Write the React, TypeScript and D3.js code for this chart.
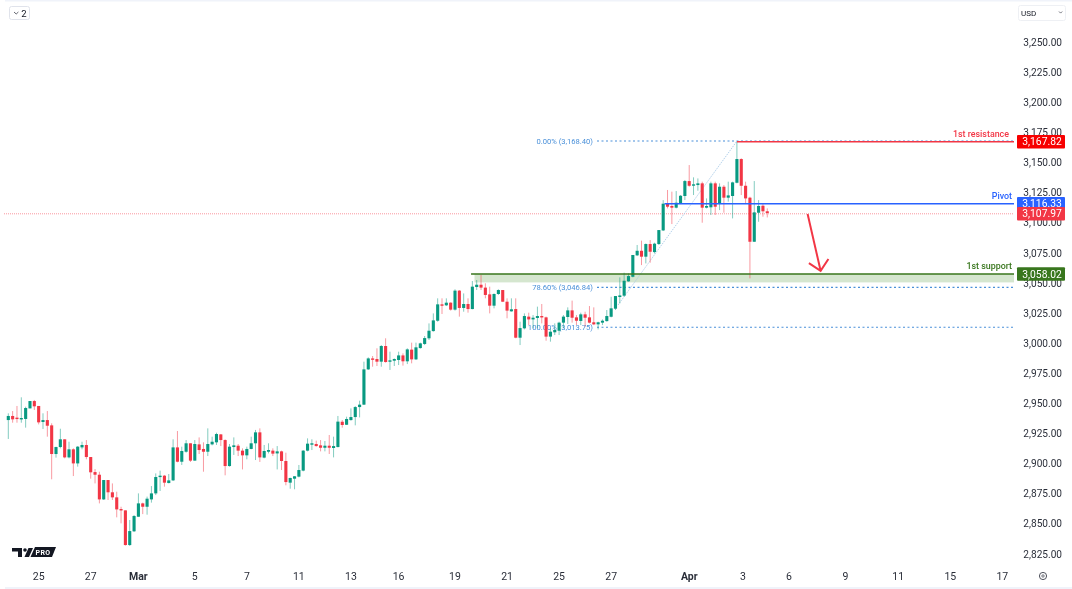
import React from "react";
import * as d3 from "d3";

const opens = [
2936.0,2939.4,2938.0,2936.9,2936.9,2945.7,2951.8,2947.7,2934.4,2936.0,
2931.6,2907.8,2913.6,2920.0,2905.0,2911.7,2900.0,2913.3,2915.3,2905.3,
2892.8,2890.6,2870.1,2886.2,2876.0,2871.8,2862.1,2861.0,2832.2,2843.6,
2855.7,2866.8,2864.0,2870.1,2875.1,2889.0,2889.8,2883.7,2885.9,2913.3,
2901.4,2909.7,2916.7,2902.3,2915.8,2912.0,2909.7,2915.8,2917.5,2924.1,
2919.4,2897.8,2913.6,2914.7,2910.6,2906.7,2912.0,2916.7,2925.8,2904.8,
2909.7,2910.6,2908.3,2910.0,2902.0,2884.0,2887.3,2889.0,2894.0,2910.6,
2915.6,2916.1,2915.0,2913.0,2914.7,2912.8,2913.6,
2934.6,2932.1,2936.0,2938.5,2946.8,2948.8,2978.1,2987.2,2986.7,
2984.5,2997.5,2984.5,2985.3,2985.9,2989.7,2984.8,2994.5,2986.4,2995.8,
2999.2,3003.9,3009.9,3018.5,3032.1,3031.3,3033.5,3027.7,3043.5,3029.1,
3032.4,3028.2,3046.5,3048.4,3046.0,3040.4,3031.0,3040.7,3044.0,3034.3,
3026.3,3028.2,3004.4,3012.2,3021.9,3019.6,3020.8,3022.4,3021.3,3005.3,
3008.9,3010.2,3016.9,3021.6,3027.1,3021.3,3018.3,3023.8,3021.3,3017.2,
3015.5,3016.9,
3018.2,3021.8,3028.5,3038.2,3039.3,3051.2,3055.0,3072.8,3076.6,3071.7,
3082.2,3075.5,3082.2,3093.5,3115.7,3113.8,3112.4,3116.3,3122.1,3134.5,
3131.2,3131.2,3132.6,3112.4,3112.7,3132.6,3116.0,3129.8,3120.7,3122.1,
3133.1,3152.8,3130.6,3120.7,3084.1,3108.2,3114.0,3109.4];

const highs = [
2941.6,2943.5,2947.7,2954.9,2947.1,2951.8,2952.7,2947.7,2941.6,2943.5,
2933.3,2913.9,2928.8,2920.0,2918.0,2912.5,2914.4,2918.0,2919.4,2905.3,
2895.3,2893.1,2886.2,2886.2,2883.4,2876.5,2864.0,2861.0,2853.0,2857.1,
2875.1,2867.4,2872.4,2881.2,2891.7,2894.0,2890.4,2891.2,2920.0,2926.9,
2913.9,2919.4,2916.7,2919.4,2921.6,2917.5,2929.1,2922.2,2925.5,2924.4,
2920.0,2916.1,2921.6,2916.1,2912.5,2913.9,2922.2,2927.8,2929.1,2915.3,
2916.7,2912.5,2914.4,2910.6,2908.9,2888.1,2889.5,2898.7,2911.1,2920.8,
2920.0,2918.9,2919.4,2918.6,2923.6,2922.2,2939.4,
2936.0,2938.8,2945.7,2947.6,2952.1,2984.5,2988.1,2989.2,2995.6,
2998.3,3003.9,2992.8,2987.2,2992.8,2991.4,2995.6,3000.3,3000.3,3000.3,
3005.8,3016.3,3024.6,3037.1,3037.1,3037.1,3033.8,3044.6,3044.0,3041.2,
3037.1,3051.5,3052.3,3056.5,3049.6,3046.8,3041.2,3044.6,3044.0,3037.1,
3037.1,3037.1,3017.7,3024.6,3025.2,3023.2,3030.2,3032.4,3021.9,3012.2,
3016.3,3017.7,3023.2,3029.6,3035.2,3023.2,3025.2,3026.0,3030.7,3029.6,
3017.7,3019.6,
3027.4,3038.4,3039.0,3054.5,3058.4,3057.8,3073.1,3081.4,3085.0,3082.7,
3085.5,3083.3,3093.8,3118.7,3127.1,3125.7,3126.2,3122.9,3135.4,3147.8,
3137.6,3136.7,3134.0,3120.1,3134.0,3134.0,3132.6,3131.2,3134.0,3134.0,
3167.2,3153.4,3134.0,3121.5,3134.5,3118.7,3116.0,3111.8];

const lows = [
2920.3,2933.8,2933.8,2933.8,2929.7,2945.7,2944.4,2932.4,2928.6,2922.2,
2886.8,2904.8,2912.5,2904.2,2904.2,2889.5,2897.3,2911.7,2903.4,2887.3,
2883.4,2866.8,2869.6,2869.6,2869.6,2855.2,2850.2,2831.7,2831.4,2843.0,
2855.7,2857.9,2857.4,2867.4,2873.7,2877.1,2880.7,2883.4,2885.4,2900.9,
2898.7,2908.9,2901.2,2902.3,2907.8,2893.1,2906.1,2915.0,2915.3,2914.4,
2890.1,2897.3,2907.0,2906.1,2895.0,2903.4,2911.7,2902.8,2901.2,2904.2,
2908.3,2906.1,2895.0,2894.5,2881.8,2879.0,2878.5,2888.4,2893.4,2910.0,
2911.1,2913.9,2910.0,2910.0,2907.8,2905.0,2913.3,
2929.7,2931.9,2935.5,2931.6,2938.2,2948.5,2977.6,2980.3,2980.9,
2980.3,2983.7,2977.6,2980.9,2981.7,2981.2,2982.5,2983.1,2985.9,2995.3,
2998.3,3002.5,3009.4,3017.7,3024.1,3030.7,3026.9,3026.9,3021.9,3026.0,
3025.2,3028.0,3044.0,3044.0,3037.1,3024.6,3028.8,3039.9,3034.0,3020.5,
3026.0,3003.9,2998.3,3011.3,3014.9,3012.2,3012.2,3016.3,3001.9,3001.1,
3006.6,3006.6,3012.2,3015.8,3016.9,3014.9,3014.9,3013.6,3016.3,3014.9,
3011.3,3014.9,
3017.7,3021.3,3027.4,3032.9,3038.4,3050.9,3054.5,3072.2,3064.7,3066.1,
3066.7,3074.4,3081.4,3093.0,3111.8,3098.8,3111.8,3115.4,3118.7,3129.8,
3122.9,3126.5,3099.9,3111.8,3106.3,3106.3,3110.4,3108.2,3117.4,3103.5,
3132.6,3122.9,3116.0,3053.7,3084.1,3100.7,3104.9,3104.3];

const closes = [
2939.4,2936.6,2937.2,2937.7,2946.0,2951.8,2947.4,2934.1,2936.0,2931.3,
2907.8,2913.6,2920.0,2905.0,2911.7,2900.0,2913.9,2915.3,2905.3,2892.6,
2890.6,2870.1,2886.2,2876.0,2871.8,2861.8,2861.0,2832.2,2843.8,2856.3,
2866.8,2864.0,2870.7,2875.1,2888.7,2889.8,2884.0,2885.9,2913.3,2901.4,
2910.3,2916.7,2902.3,2916.1,2911.1,2909.7,2916.1,2918.0,2924.4,2919.4,
2897.8,2913.9,2915.0,2910.6,2906.7,2912.0,2916.7,2925.8,2905.0,2910.3,
2911.1,2908.1,2910.0,2902.0,2884.5,2887.9,2889.3,2894.5,2910.6,2916.4,
2916.7,2914.4,2913.0,2914.7,2913.0,2914.4,2934.7,
2931.9,2936.9,2938.5,2946.8,2948.8,2978.1,2987.2,2986.4,2984.5,
2997.5,2984.2,2985.6,2986.7,2989.7,2984.8,2994.7,2986.4,2996.4,2999.7,
3004.1,3010.2,3018.8,3032.1,3031.0,3033.5,3027.7,3043.5,3029.1,3032.4,
3028.2,3046.8,3048.4,3046.0,3039.9,3031.0,3040.7,3044.0,3034.3,3026.9,
3028.0,3004.4,3012.4,3022.4,3019.6,3021.0,3022.4,3021.3,3005.3,3009.4,
3010.8,3016.9,3021.9,3027.1,3021.0,3018.5,3023.8,3021.0,3016.9,3015.5,
3017.2,3018.5,
3022.4,3028.8,3039.0,3039.5,3051.7,3055.6,3073.1,3076.6,3071.7,3082.2,
3075.8,3082.5,3093.8,3115.7,3113.2,3112.4,3116.5,3122.3,3134.5,3130.6,
3131.8,3132.6,3112.4,3113.8,3132.6,3113.2,3129.8,3120.7,3122.6,3133.4,
3152.8,3130.6,3120.1,3084.1,3108.5,3113.8,3109.4,3107.97];

const priceTicks = d3.range(2825, 3251, 25);
const dateLabels = ["25","27","Mar","5","7","11","13","16","19","21","25","27","Apr","3","6","9","11","15","17"];
const dateIndex = [7,19,30,43,55,67,79,90,103,115,127,139,157,169.4,180,193,205.2,217.2,229.2];
const boldDates = ["Mar","Apr"];

const fibLevels = [3168.4, 3046.84, 3013.75];
const fibLabels = ["0.00% (3,168.40)", "78.60% (3,046.84)", "100.00% (3,013.75)"];
const resistance = 3167.82;
const pivot = 3116.33;
const support = 3058.02;
const last = 3107.97;
// candle readings were calibrated against a scale 0.8px higher than the axis
const readingOffset = 0.66;

const GREEN = "#089981", RED = "#f23645", BLUE = "#2962ff", FIB = "#4a90d9", SUP = "#38761d";
const FONT = "Roboto, sans-serif";
const fmt = d3.format(",.2f");

const x = d3.scaleLinear().domain([0, 176]).range([8.3, 8.3 + 176 * 4.337]);
const y = d3.scaleLinear().domain([3000, 3250]).range([343.8, 42.8]);
const yc = (v: number) => y(v + readingOffset);

function Tag({ v, fill }: { v: number; fill: string }) {
  const c = y(v);
  return (
    <g>
      <rect x={1017} y={c - 6.8} width={48} height={13.6} fill={fill} rx={1} />
      <text x={1042} y={c + 3.6} textAnchor="middle" fontSize={10.3} fill="#fff">{fmt(v)}</text>
    </g>
  );
}

export default function App() {
  const bw = 3.1;
  const arrow = d3.line<[number, number]>().x(d => x(d[0])).y(d => yc(d[1]));
  return (
    <svg width={1072} height={589} viewBox="0 0 1072 589" fontFamily={FONT}
      style={{ position: "absolute", left: 0, top: 0, display: "block", background: "#fff", filter: "blur(0.3px)" }}>
      <rect x={5} y={0} width={1067} height={1.5} fill="#f0f3fa" />
      <rect x={5} y={587} width={1067} height={2} fill="#f0f3fa" />

      {/* last price line */}
      <line x1={4} x2={1014} y1={y(last)} y2={y(last)} stroke="#f7525f" strokeWidth={1} strokeDasharray="1 1" opacity={0.6} />

      {/* support zone */}
      <rect x={x(107.5)} y={y(support)} width={1014 - x(107.5)} height={y(3051) - y(support)} fill="#d5e6cf" />

      {/* fib */}
      {fibLevels.map((v, k) => (
        <g key={k}>
          <line x1={597} x2={1014} y1={y(v)} y2={y(v)} stroke={FIB} strokeWidth={1.1} strokeDasharray="2 2.5" />
          <text x={593} y={y(v) + 3} textAnchor="end" fontSize={7.6} fill={FIB}>{fibLabels[k]}</text>
        </g>
      ))}
      <path d={arrow([[140.6, 3031.6], [168, 3167.7]]) || ""} stroke="#a9cbe8" strokeWidth={0.9} strokeDasharray="1.5 1" fill="none" />

      {/* candles */}
      {opens.map((o, i) => {
        const c = closes[i];
        const col = c >= o ? GREEN : RED;
        const top = yc(Math.max(o, c));
        const h = Math.max(1.4, yc(Math.min(o, c)) - top);
        return (
          <g key={i}>
            <line x1={x(i)} x2={x(i)} y1={yc(highs[i])} y2={yc(lows[i])} stroke={col} strokeWidth={1} opacity={0.5} />
            <rect x={x(i) - bw / 2} y={top} width={bw} height={h} fill={col} />
          </g>
        );
      })}

      {/* levels */}
      <line x1={x(168)} x2={1014} y1={y(resistance)} y2={y(resistance)} stroke={RED} strokeWidth={1.4} />
      <line x1={x(151.3)} x2={1014} y1={y(pivot)} y2={y(pivot)} stroke={BLUE} strokeWidth={1.4} />
      <line x1={x(106.7)} x2={1014} y1={y(support)} y2={y(support)} stroke={SUP} strokeWidth={1.5} />
      <text x={1009} y={y(resistance) - 5} textAnchor="end" fontSize={8.9} fontWeight={500} fill={RED}>1st resistance</text>
      <text x={1012} y={y(pivot) - 5} textAnchor="end" fontSize={8.9} fontWeight={500} fill={BLUE}>Pivot</text>
      <text x={1012} y={y(support) - 4.5} textAnchor="end" fontSize={8.9} fontWeight={500} fill={SUP}>1st support</text>

      {/* arrow */}
      <path d={arrow([[184.3, 3107.1], [187.3, 3060]]) || ""} stroke={RED} strokeWidth={2} fill="none" />
      <path d={arrow([[184.6, 3066.4], [187.3, 3060], [189.1, 3069.8]]) || ""} stroke={RED} strokeWidth={2} fill="none" />

      {/* price axis */}
      {priceTicks.map(v => (
        <text key={v} x={1062} y={y(v) + 3} textAnchor="end" fontSize={10.1} fill="#2a2e39">{fmt(v)}</text>
      ))}
      <Tag v={resistance} fill="#f70000" />
      <Tag v={pivot} fill={BLUE} />
      <Tag v={last} fill={RED} />
      <Tag v={support} fill={SUP} />

      {/* date axis */}
      {dateLabels.map((t, k) => (
        <text key={k} x={x(dateIndex[k])} y={579.5} textAnchor="middle" fontSize={10.5}
          fontWeight={boldDates.includes(t) ? 700 : 400} fill="#2a2e39">{t}</text>
      ))}

      {/* settings gear */}
      <circle cx={1043} cy={576} r={3.6} fill="none" stroke="#50535e" strokeWidth={1} />
      <circle cx={1043} cy={576} r={1.2} fill="none" stroke="#50535e" strokeWidth={0.8} />

      {/* collapse button */}
      <rect x={9.5} y={6.5} width={20} height={13} rx={2} fill="#fff" stroke="#e0e3eb" />
      <path d="M14 12l2.2 2 2.2-2" fill="none" stroke="#50535e" strokeWidth={0.9} />
      <text x={24} y={16.5} textAnchor="middle" fontSize={9.5} fill="#131722">2</text>

      {/* currency button */}
      <rect x={1018.5} y={5.5} width={47} height={15} rx={2} fill="#fff" stroke="#eef0f4" />
      <text x={1021} y={15.5} fontSize={8} fill="#131722">USD</text>
      <path d="M1059 11.5l1.6 1.6 1.6-1.6" fill="none" stroke="#50535e" strokeWidth={0.8} />

      {/* logo */}
      <g fill="#131722">
        <path d="M12 548h10v9h-4v-5.5h-6z" />
        <circle cx={25} cy={550} r={1.8} />
        <path d="M28.5 548h4.5l-4 9h-4.5z" />
        <path d="M35 547h21l-4 10h-21.5z" />
      </g>
      <text x={43} y={555} textAnchor="middle" fontSize={7} fontWeight={700} fill="#fff" letterSpacing={0.4}>PRO</text>
    </svg>
  );
}
